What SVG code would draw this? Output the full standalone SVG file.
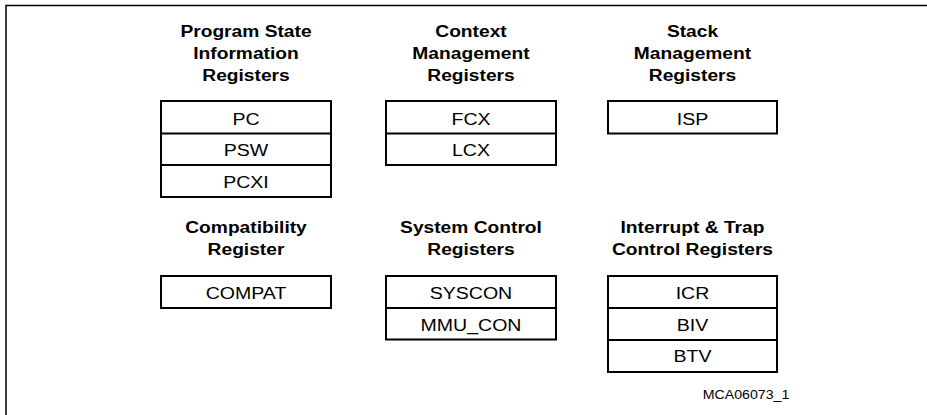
<svg xmlns="http://www.w3.org/2000/svg" width="927" height="415" viewBox="0 0 927 415">
<style>
.frame{stroke:#000;stroke-width:1.5;fill:none}
.box{fill:#fff;stroke:#000;stroke-width:2}
.div{stroke:#000;stroke-width:2}
.t{font-family:"Liberation Sans",Arial,sans-serif;font-weight:bold;font-size:17px;text-anchor:middle;fill:#000}
.r{font-family:"Liberation Sans",Arial,sans-serif;font-size:17px;text-anchor:middle;fill:#000}
.id{font-family:"Liberation Sans",Arial,sans-serif;font-size:12px;text-anchor:middle;fill:#000}
</style>
<rect width="927" height="415" fill="#fff"/>
<path class="frame" d="M6,415 V5.5 H927"/>
<g id="program-state">
<g transform="translate(246,0) scale(1.13,1)">
<text class="t" x="0" y="37">Program State</text>
<text class="t" x="0" y="59">Information</text>
<text class="t" x="0" y="81">Registers</text>
</g>
<rect class="box" x="161" y="101" width="170" height="96"/>
<line class="div" x1="161" y1="133.5" x2="331" y2="133.5"/>
<line class="div" x1="161" y1="165" x2="331" y2="165"/>
<g transform="translate(246,0) scale(1.15,1)">
<text class="r" x="0" y="125">PC</text>
<text class="r" x="0" y="156">PSW</text>
<text class="r" x="0" y="188">PCXI</text>
</g>
</g>
<g id="context-management">
<g transform="translate(471,0) scale(1.13,1)">
<text class="t" x="0" y="37">Context</text>
<text class="t" x="0" y="59">Management</text>
<text class="t" x="0" y="81">Registers</text>
</g>
<rect class="box" x="386" y="101" width="170" height="64"/>
<line class="div" x1="386" y1="133.5" x2="556" y2="133.5"/>
<g transform="translate(471,0) scale(1.15,1)">
<text class="r" x="0" y="125">FCX</text>
<text class="r" x="0" y="156">LCX</text>
</g>
</g>
<g id="stack-management">
<g transform="translate(692.5,0) scale(1.13,1)">
<text class="t" x="0" y="37">Stack</text>
<text class="t" x="0" y="59">Management</text>
<text class="t" x="0" y="81">Registers</text>
</g>
<rect class="box" x="608" y="101" width="169" height="32.5"/>
<g transform="translate(692.5,0) scale(1.15,1)">
<text class="r" x="0" y="125">ISP</text>
</g>
</g>
<g id="compatibility">
<g transform="translate(246,0) scale(1.13,1)">
<text class="t" x="0" y="233">Compatibility</text>
<text class="t" x="0" y="255">Register</text>
</g>
<rect class="box" x="161" y="276" width="170" height="32"/>
<g transform="translate(246,0) scale(1.15,1)">
<text class="r" x="0" y="299">COMPAT</text>
</g>
</g>
<g id="system-control">
<g transform="translate(471,0) scale(1.13,1)">
<text class="t" x="0" y="233">System Control</text>
<text class="t" x="0" y="255">Registers</text>
</g>
<rect class="box" x="386" y="276" width="170" height="63.5"/>
<line class="div" x1="386" y1="308" x2="556" y2="308"/>
<g transform="translate(471,0) scale(1.15,1)">
<text class="r" x="0" y="299">SYSCON</text>
<text class="r" x="0" y="331">MMU_CON</text>
</g>
</g>
<g id="interrupt-trap">
<g transform="translate(692.5,0) scale(1.13,1)">
<text class="t" x="0" y="233">Interrupt &amp; Trap</text>
<text class="t" x="0" y="255">Control Registers</text>
</g>
<rect class="box" x="608" y="276" width="169" height="96"/>
<line class="div" x1="608" y1="308" x2="777" y2="308"/>
<line class="div" x1="608" y1="340" x2="777" y2="340"/>
<g transform="translate(692.5,0) scale(1.15,1)">
<text class="r" x="0" y="299">ICR</text>
<text class="r" x="0" y="331">BIV</text>
<text class="r" x="0" y="362">BTV</text>
</g>
</g>
<g id="connectors"></g>
<g transform="translate(746,0) scale(1.18,1)">
<text class="id" x="0" y="399">MCA06073_1</text>
</g>
</svg>
